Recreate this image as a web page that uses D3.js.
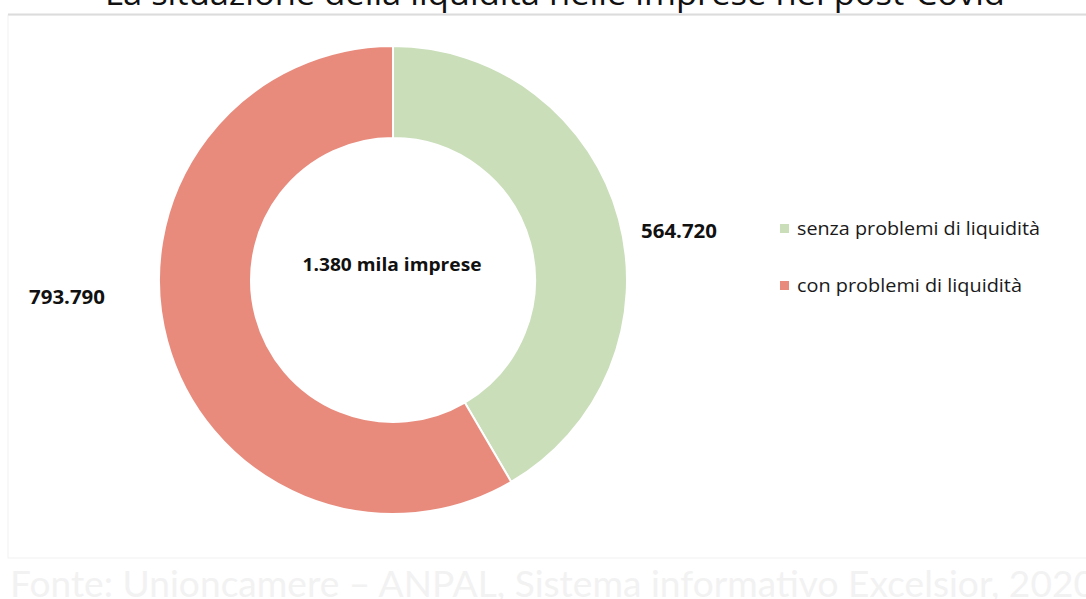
<!DOCTYPE html>
<html>
<head>
<meta charset="utf-8">
<script src="https://cdn.jsdelivr.net/npm/d3@7"></script>
<style>
  body { margin: 0; background: #fff; }
  svg { display: block; font-family: "Open Sans", Lato, sans-serif; }
</style>
</head>
<body>
<div id="chart-area"></div>
<script>
// data
let categories = ["senza problemi di liquidità", "con problemi di liquidità"];
let values = [564720, 793790];
let valueLabels = ["564.720", "793.790"];
let colors = ["#c9deb9", "#e88b7d"];
let centerLabel = "1.380 mila imprese";
let title = "La situazione della liquidità nelle imprese nel post-Covid";
let source = "Fonte: Unioncamere – ANPAL, Sistema informativo Excelsior, 2020";

let width = 1086, height = 599;

let svg = d3.select("#chart-area").append("svg")
    .attr("width", width)
    .attr("height", height);

// faint frame of the slide
svg.append("rect")
    .attr("x", 8).attr("y", 15)
    .attr("width", width + 10).attr("height", 543)
    .attr("fill", "none")
    .attr("stroke", "#f1f1f1")
    .attr("stroke-width", 1);

svg.append("line")
    .attr("x1", 8).attr("x2", width)
    .attr("y1", 14.5).attr("y2", 14.5)
    .attr("stroke", "#dcdcdc")
    .attr("stroke-width", 2);

// title, cut at the top like in the slide
svg.append("text")
    .attr("x", 555)
    .attr("y", 5)
    .attr("text-anchor", "middle")
    .attr("font-size", 33)
    .attr("fill", "#111")
    .attr("textLength", 900)
    .attr("lengthAdjust", "spacingAndGlyphs")
    .text(title);

// source, almost white
svg.append("text")
    .attr("x", 10)
    .attr("y", 597)
    .attr("font-family", "Lato, sans-serif")
    .attr("font-size", 37)
    .attr("fill", "#f2f2f2")
    .attr("textLength", 1085)
    .attr("lengthAdjust", "spacingAndGlyphs")
    .text(source);

let cx = 393, cy = 280, outerR = 234, innerR = 142;

let pie = d3.pie().sort(null).value(d => d);
let arc = d3.arc().innerRadius(innerR).outerRadius(outerR);

let g = svg.append("g")
    .attr("transform", "translate(" + cx + "," + cy + ")");

g.selectAll(".slice")
    .data(pie(values))
    .enter()
    .append("path")
    .attr("class", "slice")
    .attr("d", arc)
    .attr("fill", (d, i) => colors[i])
    .attr("stroke", "#fff")
    .attr("stroke-width", 2);

g.append("text")
    .attr("x", -1)
    .attr("y", -9)
    .attr("text-anchor", "middle")
    .attr("font-size", 18)
    .attr("font-weight", "bold")
    .attr("fill", "#111")
    .attr("textLength", 179)
    .attr("lengthAdjust", "spacingAndGlyphs")
    .text(centerLabel);

// value labels next to the ring
let labelPos = [[641, 238], [29, 304]];
svg.selectAll(".val")
    .data(valueLabels)
    .enter()
    .append("text")
    .attr("class", "val")
    .attr("x", (d, i) => labelPos[i][0])
    .attr("y", (d, i) => labelPos[i][1])
    .attr("font-size", 19)
    .attr("font-weight", "bold")
    .attr("fill", "#111")
    .attr("textLength", 76)
    .attr("lengthAdjust", "spacingAndGlyphs")
    .text(d => d);

// legend
let legend = svg.selectAll(".legend")
    .data(categories)
    .enter()
    .append("g")
    .attr("class", "legend")
    .attr("transform", (d, i) => "translate(780," + (224 + i * 57) + ")");

legend.append("rect")
    .attr("width", 9).attr("height", 9)
    .attr("fill", (d, i) => colors[i]);

legend.append("text")
    .attr("x", 17)
    .attr("y", 11)
    .attr("font-size", 18)
    .attr("fill", "#1a1a1a")
    .attr("textLength", (d, i) => i === 0 ? 243 : 225)
    .attr("lengthAdjust", "spacingAndGlyphs")
    .text(d => d);
</script>
</body>
</html>
